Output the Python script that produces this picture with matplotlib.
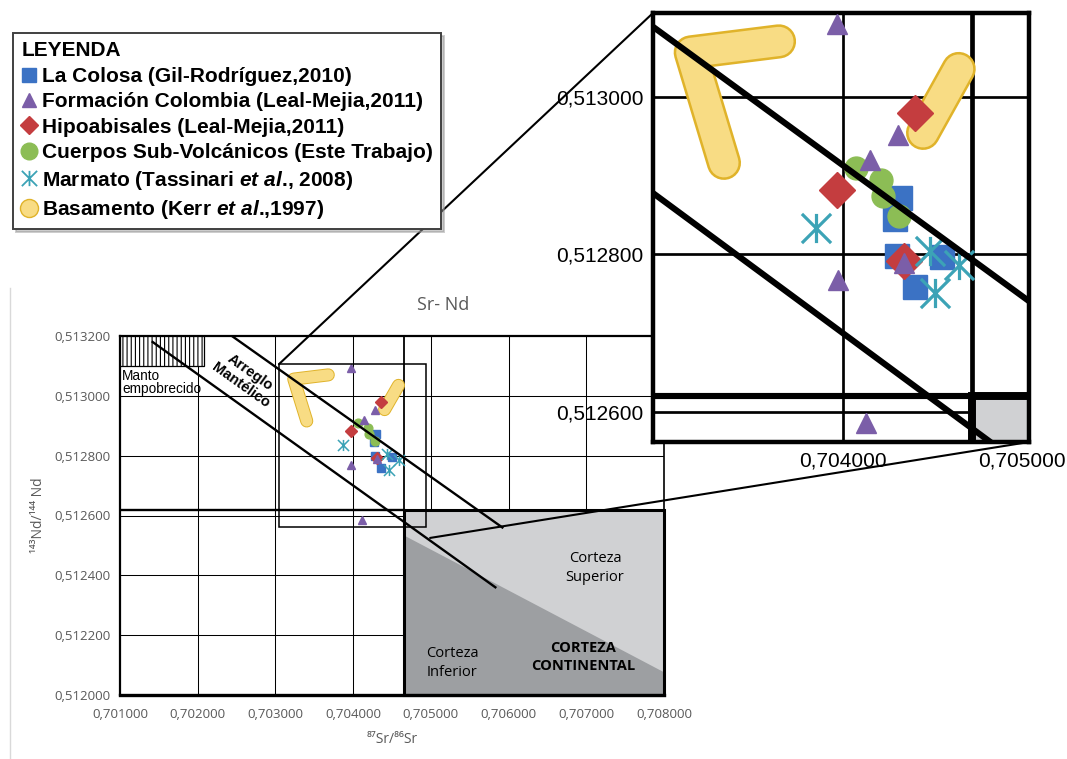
import matplotlib
matplotlib.use("Agg")
import matplotlib.pyplot as plt
import matplotlib.patheffects as pe
from matplotlib.lines import Line2D
from matplotlib.path import Path
from matplotlib.patches import Rectangle, Polygon, ConnectionPatch
from matplotlib.font_manager import FontProperties
from matplotlib.transforms import blended_transform_factory, ScaledTranslation

plt.rcParams["font.family"] = ["Open Sans", "DejaVu Sans"]
plt.rcParams["mathtext.fontset"] = "custom"
plt.rcParams["mathtext.rm"] = "Liberation Sans:bold"
plt.rcParams["mathtext.it"] = "Liberation Sans:italic:bold"
plt.rcParams["mathtext.bf"] = "Liberation Sans:bold"
plt.rcParams["hatch.linewidth"] = 0.8

# ---------------- sample data (87Sr/86Sr, 143Nd/144Nd) ----------------
colosa_sr = [0.704291, 0.704263, 0.704275, 0.704501, 0.704362]
colosa_nd = [0.512872, 0.512845, 0.512798, 0.512796, 0.512759]

colombia_sr = [0.703973, 0.704280, 0.704140, 0.703978, 0.704308, 0.704119]
colombia_nd = [0.513092, 0.512951, 0.512919, 0.512768, 0.512789, 0.512586]

hipo_sr = [0.704362, 0.703973, 0.704308]
hipo_nd = [0.512979, 0.512881, 0.512791]

subvol_sr = [0.704065, 0.704194, 0.704202, 0.704283]
subvol_nd = [0.512909, 0.512894, 0.512874, 0.512849]

marmato_sr = [0.703864, 0.704442, 0.704584, 0.704467]
marmato_nd = [0.512834, 0.512804, 0.512787, 0.512751]

# basement (Kerr et al., 1997): centre lines of the two bands
basamento_a_sr = [0.703680, 0.703236, 0.703403]
basamento_a_nd = [0.513070, 0.513056, 0.512916]
basamento_b_sr = [0.704584, 0.704405]
basamento_b_nd = [0.513035, 0.512954]

# ---------------- reference fields ----------------
mantle_upper_sr = [0.70244, 0.70592]
mantle_upper_nd = [0.51320, 0.51256]
mantle_lower_sr = [0.70142, 0.70583]
mantle_lower_nd = [0.51318, 0.51236]

depleted_sr = [0.701, 0.70208]
depleted_nd = [0.51310, 0.51320]

crust_sr = [0.70465, 0.708]
crust_nd = [0.512, 0.51262]
crust_divide_sr = [0.70465, 0.708]
crust_divide_nd = [0.512534, 0.512076]

# ---------------- axes ticks ----------------
sr_ticks = [0.701, 0.702, 0.703, 0.704, 0.705, 0.706, 0.707, 0.708]
sr_labels = ["0,701000", "0,702000", "0,703000", "0,704000",
             "0,705000", "0,706000", "0,707000", "0,708000"]
nd_ticks = [0.5120, 0.5122, 0.5124, 0.5126, 0.5128, 0.5130, 0.5132]
nd_labels = ["0,512000", "0,512200", "0,512400", "0,512600",
             "0,512800", "0,513000", "0,513200"]

zoom_sr = [0.703046, 0.704938]
zoom_nd = [0.512562, 0.513106]
zoom_sr_ticks = [0.704]
zoom_sr_labels = ["0,704000"]
zoom_nd_ticks = [0.5126, 0.5128, 0.5130]
zoom_nd_labels = ["0,512600", "0,512800", "0,513000"]

# ---------------- colours ----------------
c_colosa = "#3b72c4"
c_colombia = "#7b5ea8"
c_hipo = "#c43d3f"
c_subvol = "#8cbd55"
c_marmato = "#3ca3b6"
c_base = "#f8dc84"
c_base_edge = "#e0b32a"
c_light = "#d0d1d3"
c_dark = "#9d9fa2"

# six-armed asterisk: vertical bar plus an X
star6 = Path([(0, -1), (0, 1), (-1, -1), (1, 1), (-1, 1), (1, -1)],
             [Path.MOVETO, Path.LINETO, Path.MOVETO, Path.LINETO,
              Path.MOVETO, Path.LINETO])


def draw_panel(ax, s, ms, band):
    # grid
    for x in sr_ticks[1:-1]:
        ax.axvline(x, color="black", lw=0.75 * s, zorder=1)
    for y in nd_ticks[1:-1]:
        ax.axhline(y, color="black", lw=0.75 * s, zorder=1)

    # continental crust field
    x0, x1 = crust_sr
    y0, y1 = crust_nd
    ax.add_patch(Rectangle((x0, y0), x1 - x0, y1 - y0, facecolor=c_light,
                           edgecolor="none", zorder=2))
    ax.add_patch(Polygon([(crust_divide_sr[0], crust_divide_nd[0]),
                          (crust_divide_sr[1], crust_divide_nd[1]),
                          (x1, y0), (x0, y0)], closed=True,
                         facecolor=c_dark, edgecolor="none", zorder=2))
    ax.add_patch(Rectangle((x0, y0), x1 - x0, y1 - y0, fill=False,
                           edgecolor="black", lw=2.2 * s, zorder=3,
                           clip_on=(s > 1)))
    ax.plot([x0, x0], [y1, nd_ticks[-1]], color="black", lw=1.3 * s, zorder=3)
    ax.plot([sr_ticks[0], x0], [y1, y1], color="black", lw=1.7 * s, zorder=3)

    # depleted mantle
    ax.add_patch(Rectangle((depleted_sr[0], depleted_nd[0]),
                           depleted_sr[1] - depleted_sr[0],
                           depleted_nd[1] - depleted_nd[0],
                           facecolor="white", edgecolor="black", hatch="||||",
                           lw=0.9 * s, zorder=3))

    # basement bands
    for xs, ys in [(basamento_a_sr, basamento_a_nd), (basamento_b_sr, basamento_b_nd)]:
        ax.plot(xs, ys, color=c_base, lw=band, solid_capstyle="round",
                solid_joinstyle="round", zorder=4,
                path_effects=[pe.Stroke(linewidth=band + 1.4 * s, foreground=c_base_edge),
                              pe.Normal()])

    # samples
    ax.plot(colosa_sr, colosa_nd, ls="none", marker="s", ms=ms["s"],
            mfc=c_colosa, mec=c_colosa, zorder=5)
    ax.plot(subvol_sr, subvol_nd, ls="none", marker="o", ms=ms["o"],
            mfc=c_subvol, mec=c_subvol, zorder=6)
    ax.plot(hipo_sr, hipo_nd, ls="none", marker="D", ms=ms["D"],
            mfc=c_hipo, mec=c_hipo, zorder=7)
    ax.plot(colombia_sr, colombia_nd, ls="none", marker="^", ms=ms["^"],
            mfc=c_colombia, mec=c_colombia, zorder=8)
    ax.plot(marmato_sr, marmato_nd, ls="none", marker=star6, ms=ms["*"],
            mfc="none", mec=c_marmato, mew=ms["mew"], zorder=8)

    # mantle array
    ax.plot(mantle_upper_sr, mantle_upper_nd, color="black", lw=1.7 * s, zorder=9)
    ax.plot(mantle_lower_sr, mantle_lower_nd, color="black", lw=1.7 * s, zorder=9)


W, H = 1067, 759
fig = plt.figure(figsize=(W / 100, H / 100), dpi=100)

# ---------------- main diagram ----------------
ax = fig.add_axes([120 / W, 1 - 695 / H, 544 / W, 359 / H], zorder=1)
ax.set_xlim(sr_ticks[0], sr_ticks[-1])
ax.set_ylim(nd_ticks[0], nd_ticks[-1])
draw_panel(ax, 1.0, {"s": 6.2, "o": 6.3, "D": 6.3, "^": 6.0, "*": 8.0, "mew": 1.1}, 8.0)

ax.add_patch(Rectangle((zoom_sr[0], zoom_nd[0]), zoom_sr[1] - zoom_sr[0],
                       zoom_nd[1] - zoom_nd[0], fill=False, edgecolor="black",
                       lw=1.1, zorder=9))

ax.set_xticks(sr_ticks)
ax.set_xticklabels(sr_labels)
ax.set_yticks(nd_ticks)
ax.set_yticklabels(nd_labels)
ax.tick_params(length=0, labelsize=9.5, labelcolor="#595959")
ax.tick_params(axis="x", pad=9)
ax.tick_params(axis="y", pad=7)
for side, w in [("left", 1.6), ("top", 1.6), ("bottom", 2.4), ("right", 1.2)]:
    ax.spines[side].set_linewidth(w)
    ax.spines[side].set_color("black")
ax.set_xlabel("⁸⁷Sr/⁸⁶Sr", fontsize=10, color="#595959", labelpad=8)
ax.set_ylabel("¹⁴³Nd/¹⁴⁴ Nd", fontsize=10, color="#595959", labelpad=6)

ax.text(0.701 + 0.00003, 0.513045, "Manto\nempobrecido", fontsize=9.8,
        family="Liberation Sans", ha="left", va="center", linespacing=0.95, zorder=10)
ax.text(0.702615, 0.513056, "Arreglo\nMantélico", fontsize=10.5,
        family="Liberation Sans", weight="bold", rotation=-35.5,
        rotation_mode="anchor", ha="center", va="center", linespacing=1.15, zorder=10)
ax.text(0.707112, 0.512425, "Corteza\nSuperior", fontsize=10.5, ha="center",
        va="center", linespacing=1.3, zorder=10)
ax.text(0.705272, 0.512107, "Corteza\nInferior", fontsize=10.5, ha="center",
        va="center", linespacing=1.3, zorder=10)
ax.text(0.706958, 0.512127, "CORTEZA\nCONTINENTAL", fontsize=10.5, weight="bold",
        ha="center", va="center", linespacing=1.3, zorder=10)

fig.text(443 / W, 1 - 305 / H, "Sr- Nd", fontsize=13, color="#595959",
         ha="center", va="center")
fig.add_artist(Line2D([10 / W, 10 / W], [0, 1 - 288 / H], color="#d9d9d9",
                      lw=1.0, transform=fig.transFigure))

# ---------------- enlarged detail ----------------
ax2 = fig.add_axes([653 / W, 1 - 442 / H, 376 / W, 429 / H], zorder=3)
ax2.set_facecolor("white")
ax2.set_xlim(zoom_sr)
ax2.set_ylim(zoom_nd)
draw_panel(ax2, 2.6, {"s": 17, "o": 16.5, "D": 18, "^": 14.5, "*": 21, "mew": 2.3}, 21.0)
ax2.set_xticks(zoom_sr_ticks)
ax2.set_xticklabels(zoom_sr_labels)
ax2.set_yticks(zoom_nd_ticks)
ax2.set_yticklabels(zoom_nd_labels)
ax2.tick_params(length=0, labelsize=15, labelcolor="black", pad=7)
for lbl in ax2.get_xticklabels() + ax2.get_yticklabels():
    lbl.set_family("Liberation Sans")
for side in ["left", "top", "bottom", "right"]:
    ax2.spines[side].set_linewidth(3.2)
    ax2.spines[side].set_color("black")
ax2.text(0.7049, 0.0, "0,705000", fontsize=15, family="Liberation Sans",
         ha="center", va="top",
         transform=blended_transform_factory(ax2.transData, ax2.transAxes)
         + ScaledTranslation(0, -7 / 72, fig.dpi_scale_trans),
         clip_on=False)

# connecting lines between the frame and the enlarged view
con1 = ConnectionPatch(xyA=(zoom_sr[0], zoom_nd[1]), coordsA=ax.transData,
                       xyB=(0, 1), coordsB=ax2.transAxes, color="black", lw=1.5)
con2 = ConnectionPatch(xyA=(0.70499, 0.512525), coordsA=ax.transData,
                       xyB=(1, 0), coordsB=ax2.transAxes, color="black", lw=1.5)
con1.set_zorder(2)
con2.set_zorder(4)
fig.add_artist(con1)
fig.add_artist(con2)

# ---------------- legend ----------------
handles = [
    Line2D([], [], ls="none", marker="s", ms=10, mfc=c_colosa, mec=c_colosa),
    Line2D([], [], ls="none", marker="^", ms=10.5, mfc=c_colombia, mec=c_colombia),
    Line2D([], [], ls="none", marker="D", ms=9.5, mfc=c_hipo, mec=c_hipo),
    Line2D([], [], ls="none", marker="o", ms=12, mfc=c_subvol, mec=c_subvol),
    Line2D([], [], ls="none", marker=star6, ms=11, mfc="none", mec=c_marmato, mew=1.3),
    Line2D([], [], ls="none", marker="o", ms=13, mfc=c_base, mec=c_base_edge, mew=1.0),
]
labels = [
    "La Colosa (Gil-Rodríguez,2010)",
    "Formación Colombia (Leal-Mejia,2011)",
    "Hipoabisales (Leal-Mejia,2011)",
    "Cuerpos Sub-Volcánicos (Este Trabajo)",
    r"Marmato (Tassinari $et\ al$., 2008)",
    r"Basamento (Kerr $et\ al$.,1997)",
]
leg_font = FontProperties(family="Liberation Sans", weight="bold", size=15)
leg = fig.legend(handles, labels, loc="upper left",
                 bbox_to_anchor=(13 / W, 1 - 33 / H), prop=leg_font,
                 title="LEYENDA", title_fontproperties=leg_font, alignment="left",
                 frameon=True, fancybox=False, shadow={"color": "#9a9a9a"},
                 edgecolor="#404040", framealpha=1, borderpad=0.4,
                 labelspacing=0.31, handlelength=0.7, handletextpad=0.3,
                 borderaxespad=0)
leg.get_frame().set_linewidth(1.4)

fig.savefig("out.png", dpi=100, facecolor="white")
